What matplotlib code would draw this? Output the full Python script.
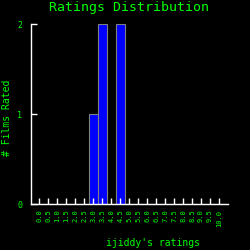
import matplotlib
matplotlib.use("Agg")
import matplotlib.pyplot as plt
import numpy as np

ratings = np.arange(0, 10.5, 0.5)
counts = [0, 0, 0, 0, 0, 0, 1, 2, 0, 2, 0, 0, 0, 0, 0, 0, 0, 0, 0, 0, 0]
tick_labels = ["%.1f" % r for r in ratings]

green = "#00ff00"
font = "DejaVu Sans Mono"

fig = plt.figure(figsize=(2.5, 2.5), dpi=100, facecolor="black")
ax = fig.add_axes([0.122, 0.184, 0.79, 0.72], facecolor="black")
ax.bar(ratings, counts, width=0.5, color="#0000ff", edgecolor="#808080", linewidth=0.8)

ax.set_xlim(-0.5, 10.5)
ax.set_ylim(0, 2)
ax.set_xticks(ratings)
ax.set_xticklabels(tick_labels, rotation=90, fontsize=5, color=green, family=font)
ax.set_yticks([0, 1, 2])
ax.set_yticklabels(["0", "1", "2"], fontsize=6, color=green, family=font)
ax.tick_params(axis="both", direction="in", colors="white", length=4, width=1,
               labelcolor=green)
ax.tick_params(axis="y", pad=6)
ax.tick_params(axis="x", pad=4)

for side in ["top", "right"]:
    ax.spines[side].set_visible(False)
for side in ["left", "bottom"]:
    ax.spines[side].set_color("white")
    ax.spines[side].set_linewidth(1)

fig.text(0.516, 0.968, "Ratings Distribution", ha="center", va="center",
         color=green, fontsize=9.5, family=font)
fig.text(0.612, 0.028, "ijiddy's ratings", ha="center", va="center",
         color=green, fontsize=7, family=font)
fig.text(0.03, 0.53, "# Films Rated", ha="center", va="center", rotation=90,
         color=green, fontsize=7, family=font)

fig.savefig("out.png", dpi=100, facecolor="black")
